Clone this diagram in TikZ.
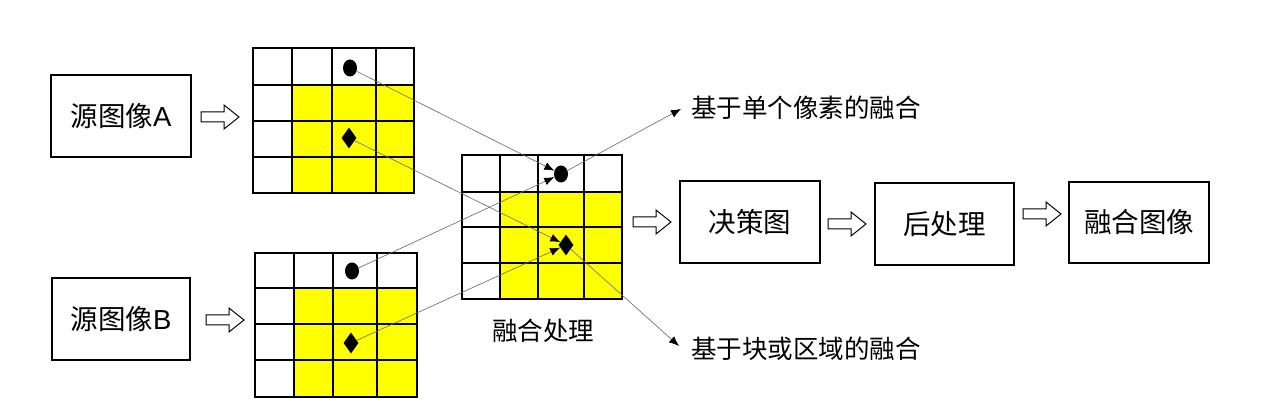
\documentclass[tikz,border=0pt]{standalone}
\usepackage{fontspec}
\setmainfont{Noto Sans CJK SC}
\newfontfamily\arialf{Liberation Sans}
\usetikzlibrary{shapes.geometric,arrows.meta}
\definecolor{ylw}{RGB}{255,255,0}
\tikzset{
 box/.style={draw=black,line width=1.3pt,fill=white,inner sep=0pt,font=\fontsize{27.5}{30}\selectfont},
 lbl/.style={font=\fontsize{25.5}{30}\selectfont,inner sep=0pt},
 mcirc/.style={ellipse,fill=black,minimum width=14pt,minimum height=17pt,inner sep=0pt},
 mdiam/.style={diamond,fill=black,minimum width=15pt,minimum height=21pt,inner sep=0pt},
 conn/.style={draw=black!60,line width=0.6pt,-{Latex[length=10pt,width=8pt,black]}},
 harr/.style={draw=black,line width=1pt,fill=white,line join=miter},
 gridln/.style={draw=black,line width=1.3pt,line cap=rect},
}
\newcommand{\harrowat}[2]{\draw[harr] (#1,#2) ++(0,-5) -- ++(23,0) -- ++(0,-7) -- ++(15,12) -- ++(-15,12) -- ++(0,-7) -- ++(-23,0) -- cycle;}
\begin{document}
\begin{tikzpicture}[x=1pt,y=-1pt]
\useasboundingbox[fill=white] (0,0) rectangle (1261,411);
% source boxes
\node[box,minimum width=140pt,minimum height=82pt] (srcA) at (121,116) {源图像{\arialf A}};
\node[box,minimum width=138pt,minimum height=82pt] (srcB) at (121,319) {源图像{\arialf B}};
% hollow arrows
\harrowat{201}{117}
\harrowat{206}{320}
\harrowat{633}{222}
\harrowat{828}{224}
\harrowat{1023}{214}
% grid A
\fill[ylw] (292,85) rectangle (414,193);
\foreach \x in {253,292,332,376,414} \draw[gridln] (\x,48) -- (\x,193);
\foreach \y in {48,85,121,157,193} \draw[gridln] (253,\y) -- (414,\y);
% grid B
\fill[ylw] (294,288) rectangle (417,397);
\foreach \x in {255,294,333,377,417} \draw[gridln] (\x,253) -- (\x,397);
\foreach \y in {253,288,324,360,397} \draw[gridln] (255,\y) -- (417,\y);
% grid M
\fill[ylw] (500,192) rectangle (622,299);
\foreach \x in {462,500,538,584,622} \draw[gridln] (\x,155) -- (\x,299);
\foreach \y in {155,192,227,263,299} \draw[gridln] (462,\y) -- (622,\y);
\node[lbl] (fuse) at (543,331) {融合处理};
% markers
\node[mcirc] (ac) at (350,68) {};
\node[mdiam] (ad) at (349,138) {};
\node[mcirc] (bc) at (352,271) {};
\node[mdiam] (bd) at (351,343) {};
\node[mcirc] (mc) at (561,174) {};
\node[mdiam] (md) at (566,245) {};
% labels
\node[lbl,anchor=west] (pix) at (691,108) {基于单个像素的融合};
\node[lbl,anchor=west] (blk) at (691,349) {基于块或区域的融合};
\coordinate (tpix) at (681,109);
\coordinate (tblk) at (679,346);
% connectors
\draw[conn] (ac) -- (mc);
\draw[conn] (bc) -- (mc);
\draw[conn] (ad) -- (md);
\draw[conn] (bd) -- (md);
\draw[conn] (mc) -- (tpix);
\draw[conn] (md) -- (tblk);
% right boxes
\node[box,minimum width=140pt,minimum height=82pt] (dec) at (750,222) {决策图};
\node[box,minimum width=139pt,minimum height=82pt] (post) at (944.5,224) {后处理};
\node[box,minimum width=140pt,minimum height=81pt] (res) at (1139,222.5) {融合图像};
\end{tikzpicture}
\end{document}
